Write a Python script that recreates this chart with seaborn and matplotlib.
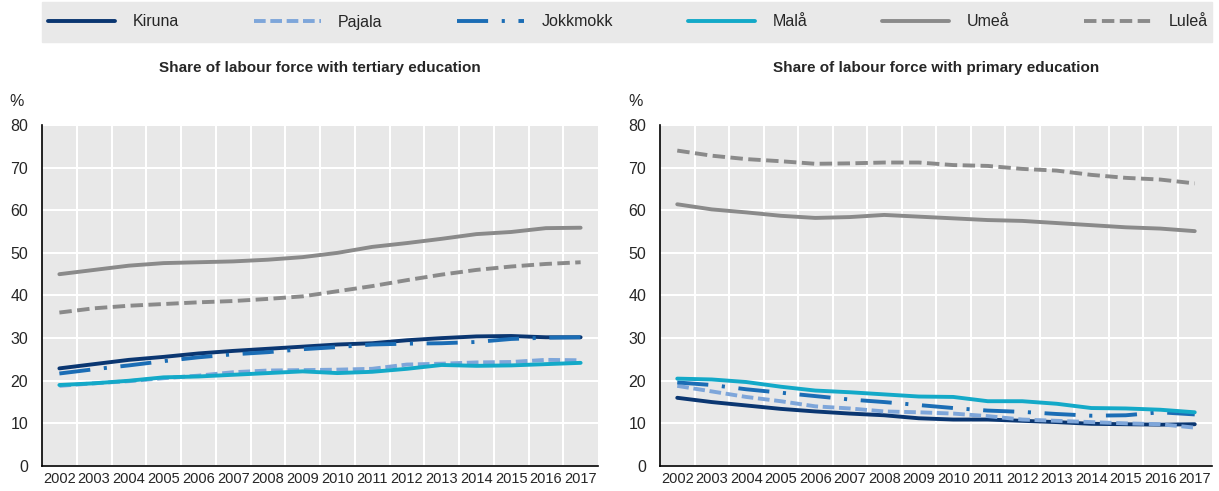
import numpy as np
import pandas as pd
import matplotlib
matplotlib.use("Agg")
import matplotlib.pyplot as plt
from matplotlib.lines import Line2D
from matplotlib.patches import Rectangle
import seaborn as sns

# data
years = [str(y) for y in range(2002, 2018)]
towns = ["Kiruna", "Pajala", "Jokkmokk", "Malå", "Umeå", "Luleå"]

# share of labour force with tertiary education (%)
kiruna_t = [22.9, 23.9, 24.9, 25.6, 26.4, 27.0, 27.5, 28.0, 28.5, 28.8, 29.5, 30.0, 30.4, 30.5, 30.2, 30.2]
pajala_t = [18.8, 19.4, 19.9, 20.6, 21.2, 22.0, 22.4, 22.5, 22.6, 22.8, 23.8, 24.0, 24.3, 24.4, 24.9, 24.8]
jokkmokk_t = [21.7, 22.7, 23.6, 24.6, 25.5, 26.2, 26.7, 27.4, 27.9, 28.5, 28.7, 28.8, 29.1, 29.8, 30.1, 30.2]
mala_t = [19.0, 19.4, 20.0, 20.8, 21.0, 21.4, 21.8, 22.2, 21.8, 22.1, 22.8, 23.7, 23.5, 23.6, 23.9, 24.2]
umea_t = [45.0, 46.0, 47.0, 47.6, 47.8, 48.0, 48.4, 49.0, 50.0, 51.4, 52.3, 53.3, 54.4, 54.9, 55.8, 55.9]
lulea_t = [36.0, 37.0, 37.6, 38.0, 38.4, 38.7, 39.2, 39.8, 41.0, 42.2, 43.6, 44.9, 46.0, 46.8, 47.4, 47.8]

# share of labour force with primary education (%)
kiruna_p = [16.0, 15.0, 14.2, 13.4, 12.8, 12.3, 11.9, 11.2, 10.9, 10.9, 10.6, 10.3, 9.9, 9.8, 9.7, 9.8]
pajala_p = [18.8, 17.5, 16.2, 15.2, 14.0, 13.5, 12.8, 12.6, 12.3, 11.7, 10.9, 10.6, 10.3, 10.0, 9.8, 9.0]
jokkmokk_p = [19.6, 19.0, 18.0, 17.2, 16.4, 15.6, 15.0, 14.3, 13.6, 13.0, 12.7, 12.2, 11.8, 11.9, 12.6, 12.1]
mala_p = [20.5, 20.3, 19.7, 18.6, 17.7, 17.3, 16.8, 16.3, 16.2, 15.2, 15.2, 14.6, 13.6, 13.5, 13.2, 12.6]
umea_p = [61.4, 60.2, 59.5, 58.7, 58.2, 58.4, 58.9, 58.5, 58.1, 57.7, 57.5, 57.0, 56.5, 56.0, 55.7, 55.1]
lulea_p = [74.0, 72.8, 72.0, 71.5, 70.9, 71.0, 71.2, 71.2, 70.6, 70.4, 69.7, 69.3, 68.3, 67.6, 67.2, 66.3]

titles = ["Share of labour force with tertiary education",
          "Share of labour force with primary education"]

colors = {"Kiruna": "#0a3671", "Pajala": "#7ea6da", "Jokkmokk": "#1b6db5",
          "Malå": "#13a9c8", "Umeå": "#8a8a8a", "Luleå": "#8a8a8a"}
dashes = {"Kiruna": "", "Pajala": (3, 1.2), "Jokkmokk": (8, 3.5, 0.8, 3.5),
          "Malå": "", "Umeå": "", "Luleå": (3.2, 1.4)}


def long_df(series):
    rows = []
    for town, vals in zip(towns, series):
        for yr, v in zip(years, vals):
            rows.append({"year": yr, "town": town, "value": v})
    return pd.DataFrame(rows)


tert = long_df([kiruna_t, pajala_t, jokkmokk_t, mala_t, umea_t, lulea_t])
prim = long_df([kiruna_p, pajala_p, jokkmokk_p, mala_p, umea_p, lulea_p])

sns.set_style("white", {"axes.facecolor": "#e8e8e8"})
plt.rcParams["font.family"] = ["Liberation Sans", "DejaVu Sans"]
plt.rcParams["font.size"] = 11

fig = plt.figure(figsize=(12.19, 4.91), dpi=100)
ax1 = fig.add_axes([42 / 1219, 25 / 491, 556 / 1219, 341 / 491])
ax2 = fig.add_axes([660 / 1219, 25 / 491, 552 / 1219, 341 / 491])

for ax, df, title in zip([ax1, ax2], [tert, prim], titles):
    sns.lineplot(data=df, x="year", y="value", hue="town", style="town",
                 hue_order=towns, style_order=towns, palette=colors,
                 dashes=dashes, linewidth=2.8, legend=False, ax=ax)
    ax.set_xlim(-0.5, len(years) - 0.5)
    ax.set_ylim(0, 80)
    ax.set_yticks(range(0, 81, 10))
    ax.set_xticks(range(len(years)))
    ax.set_xticklabels(years)
    ax.set_xticks(np.arange(0.5, len(years) - 1, 1), minor=True)
    ax.tick_params(axis="x", which="major", length=0, pad=4, labelsize=10.5)
    ax.tick_params(axis="x", which="minor", length=5, width=1, color="black", direction="out")
    ax.tick_params(axis="y", length=5, width=1, color="black", direction="out", pad=5, labelsize=11.5)
    ax.grid(False)
    ax.grid(axis="y", which="major", color="white", linewidth=1.5)
    ax.grid(axis="x", which="minor", color="white", linewidth=1.5)
    ax.set_axisbelow(True)
    for s in ["top", "right"]:
        ax.spines[s].set_visible(False)
    for s in ["left", "bottom"]:
        ax.spines[s].set_color("black")
        ax.spines[s].set_linewidth(1.2)
    ax.set_xlabel("")
    ax.set_ylabel("")
    ax.text(0.5, 1.168, title, transform=ax.transAxes, ha="center", va="center",
            fontsize=11, fontweight="bold")
    ax.text(-0.045, 1.07, "%", transform=ax.transAxes, ha="center", va="center", fontsize=11.5)

# legend strip across the top
fig.patches.append(Rectangle((42 / 1219, 449 / 491), 1170 / 1219, 40 / 491,
                             transform=fig.transFigure, color="#e9e9e9", zorder=0))
handles = []
for t in towns:
    d = dashes[t]
    h = Line2D([], [], color=colors[t], linewidth=2.8)
    if d:
        h.set_dashes(d)
    handles.append(h)
fig.legend(handles, towns, loc="center", ncol=6, mode="expand",
           bbox_to_anchor=(48 / 1219, 449 / 491, 1160 / 1219, 40 / 491),
           frameon=False, handlelength=4.2, handletextpad=1.1, borderaxespad=0,
           borderpad=0, fontsize=11.5)

fig.savefig("out.png", dpi=100)
